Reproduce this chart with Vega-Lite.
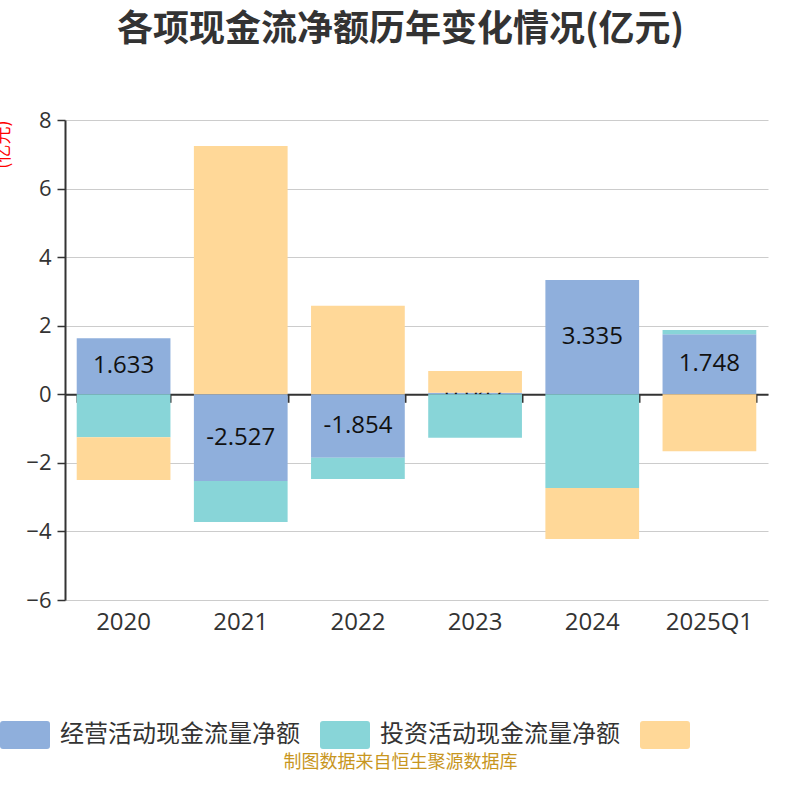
{
  "$schema": "https://vega.github.io/schema/vega-lite/v6.json",
  "width": 703,
  "height": 480,
  "autosize": {"type": "none"},
  "padding": {"left": 65, "top": 120, "right": 32, "bottom": 200},
  "background": "white",
  "config": {"font": "Noto Sans CJK SC", "view": {"stroke": null}},
  "title": {
    "text": "各项现金流净额历年变化情况(亿元)",
    "fontSize": 36,
    "fontWeight": "bold",
    "color": "#333333",
    "anchor": "middle",
    "dx": -16,
    "offset": 60
  },
  "data": {
    "values": [
      {"period": "2020", "series": "经营活动现金流量净额", "order": 1, "value": 1.633},
      {"period": "2020", "series": "投资活动现金流量净额", "order": 2, "value": -1.25},
      {"period": "2020", "series": "筹资活动现金流量净额", "order": 3, "value": -1.25},
      {"period": "2021", "series": "经营活动现金流量净额", "order": 1, "value": -2.527},
      {"period": "2021", "series": "投资活动现金流量净额", "order": 2, "value": -1.2},
      {"period": "2021", "series": "筹资活动现金流量净额", "order": 3, "value": 7.24},
      {"period": "2022", "series": "经营活动现金流量净额", "order": 1, "value": -1.854},
      {"period": "2022", "series": "投资活动现金流量净额", "order": 2, "value": -0.62},
      {"period": "2022", "series": "筹资活动现金流量净额", "order": 3, "value": 2.58},
      {"period": "2023", "series": "经营活动现金流量净额", "order": 1, "value": 0.047},
      {"period": "2023", "series": "投资活动现金流量净额", "order": 2, "value": -1.27},
      {"period": "2023", "series": "筹资活动现金流量净额", "order": 3, "value": 0.63},
      {"period": "2024", "series": "经营活动现金流量净额", "order": 1, "value": 3.335},
      {"period": "2024", "series": "投资活动现金流量净额", "order": 2, "value": -2.73},
      {"period": "2024", "series": "筹资活动现金流量净额", "order": 3, "value": -1.49},
      {"period": "2025Q1", "series": "经营活动现金流量净额", "order": 1, "value": 1.748},
      {"period": "2025Q1", "series": "投资活动现金流量净额", "order": 2, "value": 0.13},
      {"period": "2025Q1", "series": "筹资活动现金流量净额", "order": 3, "value": -1.66}
    ]
  },
  "transform": [
    {
      "stack": "value",
      "groupby": ["period"],
      "sort": [{"field": "order", "order": "ascending"}],
      "as": ["v0", "v1"]
    },
    {"calculate": "(datum.v0 + datum.v1) / 2", "as": "mid"}
  ],
  "layer": [
    {
      "transform": [{"filter": "datum.order == 1"}],
      "mark": {"type": "bar"},
      "encoding": {
        "x": {
          "field": "period",
          "type": "nominal",
          "sort": null,
          "scale": {"paddingInner": 0.2, "paddingOuter": 0.1},
          "axis": {
            "labelAngle": 0,
            "labelFont": "Open Sans",
            "labelFontSize": 24,
            "labelColor": "#333333",
            "labelPadding": 10,
            "domain": false,
            "ticks": false,
            "grid": false,
            "title": "制图数据来自恒生聚源数据库",
            "titleColor": "#c8961e",
            "titleFontSize": 18,
            "titleFontWeight": "normal",
            "titleX": 335,
            "titleY": 162,
            "titleBaseline": "middle"
          }
        },
        "y": {
          "field": "v0",
          "type": "quantitative",
          "scale": {"domain": [-6, 8], "nice": false},
          "axis": {
            "values": [-6, -4, -2, 0, 2, 4, 6, 8],
            "grid": true,
            "gridColor": "#cccccc",
            "domainColor": "#333333",
            "domainWidth": 2,
            "tickColor": "#333333",
            "tickSize": 8,
            "tickWidth": 1.5,
            "labelFont": "Open Sans",
            "labelFontSize": 22,
            "labelColor": "#333333",
            "labelPadding": 6,
            "title": "(亿元)",
            "titleColor": "red",
            "titleFontSize": 18,
            "titleFontWeight": "normal",
            "titleAnchor": "end",
            "titleX": -53
          }
        },
        "y2": {"field": "v1"},
        "color": {
          "field": "series",
          "type": "nominal",
          "scale": {
            "domain": ["经营活动现金流量净额", "投资活动现金流量净额", "筹资活动现金流量净额"],
            "range": ["#8fafdc", "#88d5d8", "#ffd898"]
          },
          "legend": {
            "orient": "none",
            "legendX": -65,
            "legendY": 590,
            "direction": "horizontal",
            "title": null,
            "padding": 0,
            "symbolType": "M-0.88,-0.56 H0.88 Q1,-0.56 1,-0.44 V0.44 Q1,0.56 0.88,0.56 H-0.88 Q-1,0.56 -1,0.44 V-0.44 Q-1,-0.56 -0.88,-0.56 Z",
            "symbolSize": 2500,
            "symbolStrokeWidth": 0,
            "symbolOpacity": 1,
            "labelFontSize": 24,
            "labelColor": "#333333",
            "labelOffset": 10,
            "columnPadding": 20,
            "labelLimit": 400,
            "labelExpr": "datum.label == '筹资活动现金流量净额' ? '' : datum.label"
          }
        }
      }
    },
    {
      "transform": [{"filter": "datum.order == 1"}],
      "mark": {"type": "text", "font": "Open Sans", "fontSize": 24, "color": "#111111", "baseline": "middle"},
      "encoding": {
        "x": {"field": "period", "type": "nominal", "sort": null, "axis": null},
        "y": {"field": "mid", "type": "quantitative"},
        "text": {"field": "value", "type": "nominal"}
      }
    },
    {
      "transform": [{"filter": "datum.order != 1"}],
      "mark": {"type": "bar"},
      "encoding": {
        "x": {
          "field": "period",
          "type": "nominal",
          "sort": null,
          "axis": {
            "orient": "bottom",
            "offset": -205.7,
            "labels": false,
            "title": null,
            "grid": false,
            "domain": true,
            "domainColor": "#333333",
            "domainWidth": 2,
            "ticks": true,
            "tickBand": "extent",
            "tickColor": "#333333",
            "tickSize": 8,
            "tickWidth": 2
          }
        },
        "y": {"field": "v0", "type": "quantitative"},
        "y2": {"field": "v1"},
        "color": {"field": "series", "type": "nominal"}
      }
    }
  ],
  "resolve": {"axis": {"x": "independent"}}
}
